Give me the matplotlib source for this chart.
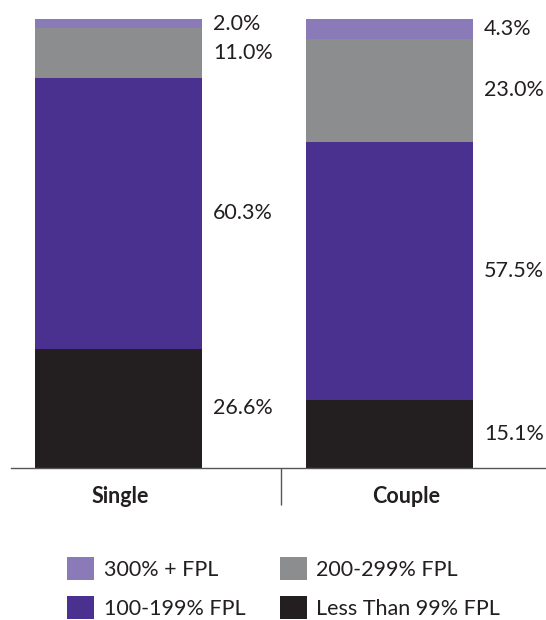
import matplotlib.pyplot as plt
from matplotlib.patches import Patch
import numpy as np

plt.rcParams['font.family'] = ['Lato', 'DejaVu Sans']

categories = ["Single", "Couple"]
segments = ["Less Than 99% FPL", "100-199% FPL", "200-299% FPL", "300% + FPL"]
values = {
    "Less Than 99% FPL": [26.6, 15.1],
    "100-199% FPL": [60.3, 57.5],
    "200-299% FPL": [11.0, 23.0],
    "300% + FPL": [2.0, 4.3],
}
colors = {
    "Less Than 99% FPL": "#231f20",
    "100-199% FPL": "#4a308f",
    "200-299% FPL": "#8c8d8f",
    "300% + FPL": "#8a7ab7",
}

fig = plt.figure(figsize=(5.46, 6.2), dpi=100)
ax = fig.add_axes([11 / 546, (620 - 468) / 620, 535 / 546, 449 / 620])

x = np.arange(len(categories))
width = 0.616
bottom = np.zeros(len(categories))
for seg in segments:
    vals = np.array(values[seg])
    ax.bar(x, vals, width, bottom=bottom, color=colors[seg], linewidth=0)
    for i, v in enumerate(vals):
        ax.annotate(f"{v:.1f}%", (x[i] + width / 2, bottom[i] + v / 2),
                    xytext=(8, 0), textcoords="offset points",
                    ha="left", va="center", fontsize=15.5, color="#231f20")
    bottom += vals

ax.set_xlim(-0.397, 1.578)
ax.set_ylim(0, 100)

for side in ["top", "right", "left"]:
    ax.spines[side].set_visible(False)
ax.spines["bottom"].set_color("#555555")
ax.spines["bottom"].set_linewidth(1.0)
ax.set_yticks([])

# category labels and separator tick
ax.set_xticks([0.005, 1.06])
ax.set_xticklabels(categories, fontsize=15.5, fontweight="bold", color="#231f20")
ax.tick_params(axis="x", which="major", length=0, pad=13)
ax.set_xticks([0.6], minor=True)
ax.tick_params(axis="x", which="minor", length=26.5, width=1.0,
               color="#555555", direction="out")

handle_order = ["300% + FPL", "100-199% FPL", "200-299% FPL", "Less Than 99% FPL"]
handles = [Patch(facecolor=colors[s], edgecolor="none", label=s) for s in handle_order]
fig.legend(handles=handles, ncol=2, loc="upper left",
           bbox_to_anchor=(67 / 546, (620 - 557) / 620),
           frameon=False, fontsize=15.5, handlelength=1.25, handleheight=1.25,
           handletextpad=0.45, columnspacing=1.6, labelspacing=0.75,
           borderpad=0, borderaxespad=0, labelcolor="#231f20")

fig.savefig("out.png", dpi=100)
